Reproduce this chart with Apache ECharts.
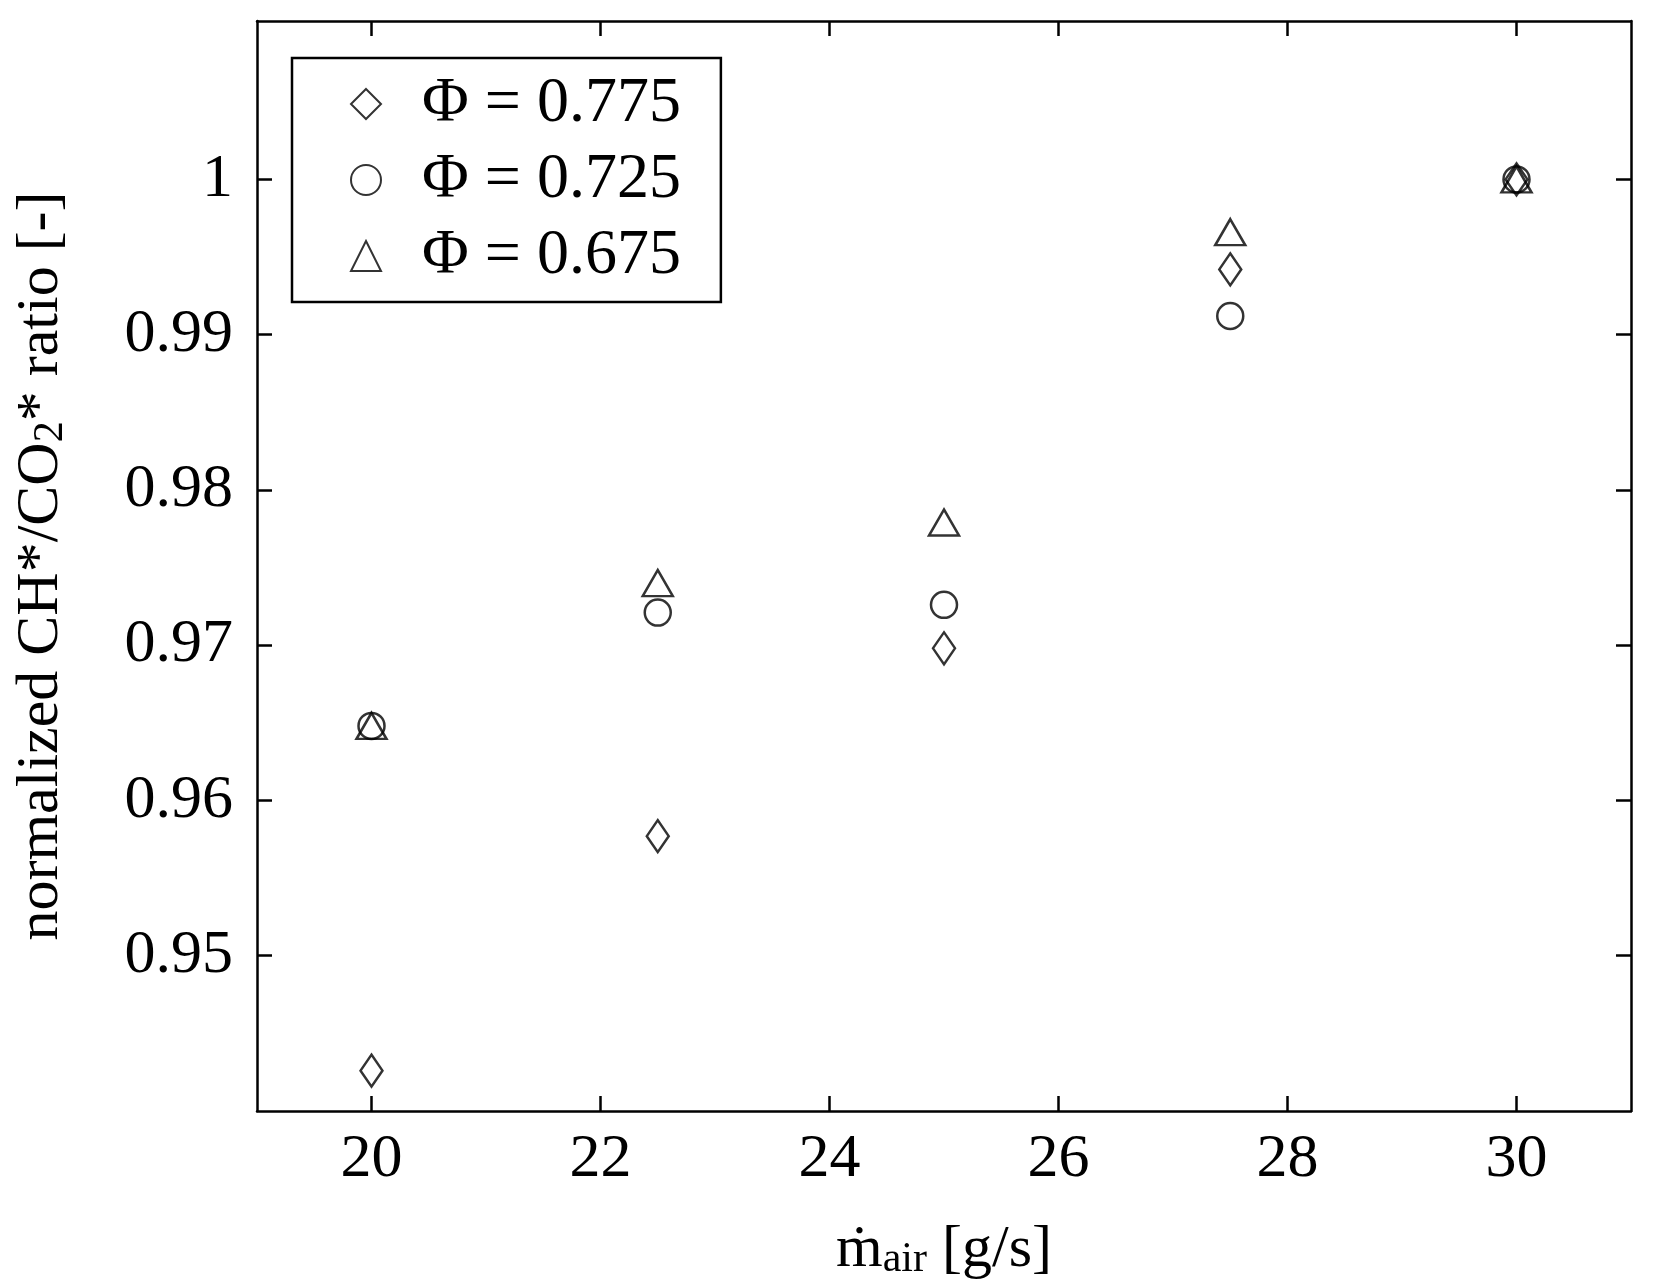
<!DOCTYPE html>
<html>
<head>
<meta charset="utf-8">
<script src="https://cdn.jsdelivr.net/npm/echarts@6/dist/echarts.min.js"></script>
<style>html,body{margin:0;background:#fff}#c{width:1655px;height:1288px}</style>
</head>
<body>
<div id="c"></div>
<script>
let xValues = [20, 22.5, 25, 27.5, 30];
let phi775 = [0.9426, 0.9577, 0.9698, 0.9942, 1.0];
let phi725 = [0.9648, 0.9721, 0.9726, 0.9912, 1.0];
let phi675 = [0.9648, 0.9740, 0.9779, 0.9966, 1.0];
let xTicks = [20, 22, 24, 26, 28, 30];
let yTicks = [0.95, 0.96, 0.97, 0.98, 0.99, 1];

function pairs(ys) {
    return xValues.map(function (x, i) { return [x, ys[i]]; });
}

let font = 'Liberation Serif';
let myChart = echarts.init(document.getElementById('c'));

let markStyle = { color: 'rgba(0,0,0,0)', borderColor: '#000', borderWidth: 2.5 };

let axisCommon = {
    axisLine: { lineStyle: { color: '#000', width: 2.5 } },
    axisTick: { inside: true, length: 15, lineStyle: { color: '#000', width: 2.5 } },
    splitLine: { show: false }
};

let option = {
    backgroundColor: '#fff',
    animation: false,
    grid: { left: 257, top: 21, width: 1374, height: 1090 },
    legend: {
        orient: 'vertical',
        left: 292, top: 58,
        padding: [14, 40, 14, 58],
        itemGap: 12,
        itemWidth: 30, itemHeight: 30,
        borderColor: '#000', borderWidth: 2.5,
        textStyle: { fontFamily: font, fontSize: 64, color: '#000', padding: [0, 0, 0, 36] },
        data: ['Φ = 0.775', 'Φ = 0.725', 'Φ = 0.675']
    },
    xAxis: [Object.assign({
        type: 'value', min: 19, max: 31,
        axisLabel: { customValues: xTicks, fontFamily: font, fontSize: 62, color: '#000', margin: 18 },
        name: '{m|ṁ}{s|air}{m| [g/s]}',
        nameLocation: 'middle', nameGap: 108,
        nameTextStyle: { rich: {
            m: { fontFamily: font, fontSize: 60, color: '#000' },
            s: { fontFamily: font, fontSize: 42, color: '#000', padding: [20, 0, 0, 0] }
        } }
    }, axisCommon, { axisTick: Object.assign({ customValues: xTicks }, axisCommon.axisTick) }),
    Object.assign({
        type: 'value', min: 19, max: 31, position: 'top',
        axisLabel: { show: false }
    }, axisCommon, { axisTick: Object.assign({ customValues: xTicks }, axisCommon.axisTick) })],
    yAxis: [Object.assign({
        type: 'value', min: 0.94, max: 1.0102,
        axisLabel: { customValues: yTicks, fontFamily: font, fontSize: 62, color: '#000', margin: 24,
            formatter: function (v) { return String(Math.round(v * 100) / 100); } },
        name: '{m|normalized CH*/CO}{s|2}{m|* ratio [-]}',
        nameLocation: 'middle', nameGap: 185,
        nameTextStyle: { rich: {
            m: { fontFamily: font, fontSize: 60, color: '#000' },
            s: { fontFamily: font, fontSize: 42, color: '#000', padding: [20, 0, 0, 0] }
        } }
    }, axisCommon, { axisTick: Object.assign({ customValues: yTicks }, axisCommon.axisTick) }),
    Object.assign({
        type: 'value', min: 0.94, max: 1.0102, position: 'right',
        axisLabel: { show: false }
    }, axisCommon, { axisTick: Object.assign({ customValues: yTicks }, axisCommon.axisTick) })],
    series: [
        { name: 'Φ = 0.775', type: 'scatter', symbol: 'diamond', symbolSize: [22, 32],
          itemStyle: markStyle, data: pairs(phi775) },
        { name: 'Φ = 0.725', type: 'scatter', symbol: 'circle', symbolSize: 26,
          itemStyle: markStyle, data: pairs(phi725) },
        { name: 'Φ = 0.675', type: 'scatter', symbol: 'triangle', symbolSize: [30, 26],
          itemStyle: markStyle, data: pairs(phi675) }
    ]
};

myChart.setOption(option);
</script>
</body>
</html>
